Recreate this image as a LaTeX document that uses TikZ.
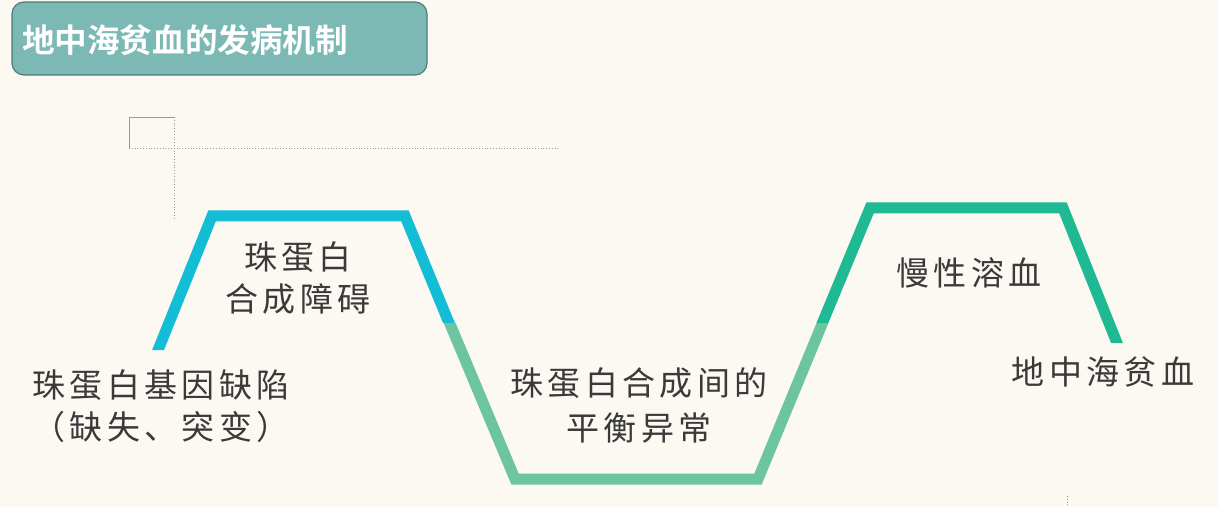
\documentclass[tikz,border=0pt]{standalone}
\usepackage{fontspec}
\newfontfamily\labfont[LetterSpace=13]{Noto Sans CJK SC}
\newfontfamily\titfont[BoldFont={Noto Sans CJK SC Bold}]{Noto Sans CJK SC}
\definecolor{bgc}{HTML}{FCF8F2}
\definecolor{bluec}{HTML}{14BDD6}
\definecolor{greenc}{HTML}{6DC4A0}
\definecolor{tealc}{HTML}{1FB994}
\definecolor{titfill}{HTML}{7CB9B5}
\definecolor{titdraw}{HTML}{4F7C7A}
\definecolor{txt}{HTML}{3A3A3A}
\tikzset{
  band/.style={line width=5.5pt, line join=miter},
  lab/.style={text=txt, font=\labfont\fontsize{16.5pt}{21pt}\selectfont, align=center, inner sep=0pt},
  guide/.style={draw=gray!80, line width=0.4pt, densely dotted},
}
\begin{document}
\begin{tikzpicture}[x=0.5pt,y=-0.5pt]
\fill[bgc] (0,0) rectangle (1218,507);
\useasboundingbox (0,0) rectangle (1218,507);
% title
\node[draw=titdraw, fill=titfill, rounded corners=6pt, line width=0.6pt,
      minimum width=207.5pt, minimum height=36.5pt, inner sep=0pt] (title) at (219.5,38.5) {};
\node[text=white, font=\titfont\bfseries\fontsize{16.3pt}{20pt}\selectfont, inner sep=0pt] (titletext) at (185,40) {地中海贫血的发病机制};
% guides
\coordinate (g1) at (129,117);
\coordinate (g2) at (174,117);
\coordinate (g3) at (129,148);
\coordinate (g4) at (559,148);
\coordinate (g5) at (174,220);
\draw[gray!80, line width=0.4pt] (g3) -- (g1) -- (g2);
\draw[guide] (g3) -- (g4);
\draw[guide] (g2) -- (g5);
\coordinate (g6) at (1067,496);
\coordinate (g7) at (1067,507);
\draw[guide] (g6) -- (g7);
% blue segment
\begin{scope}
\clip (0,0) rectangle (300,350) (300,0) rectangle (700,323);
\draw[band, bluec] (150,370) -- (212,216) -- (405,216) -- (456,340);
\end{scope}
% green segment
\begin{scope}
\clip (300,323) rectangle (950,507);
\draw[band, greenc] (440,300) -- (515,479) -- (758,479) -- (832,300);
\end{scope}
% teal segment
\begin{scope}
\clip (700,0) rectangle (950,323) (950,0) rectangle (1218,343);
\draw[band, tealc] (812,348) -- (870,208) -- (1063,208) -- (1125,363);
\end{scope}
% labels
\node[lab] (l1) at (161,406) {珠蛋白基因缺陷\\（缺失、突变）};
\node[lab] (l2) at (298,278) {珠蛋白\\合成障碍};
\node[lab, font=\labfont\fontsize{16.5pt}{22.5pt}\selectfont] (l3) at (639,405) {珠蛋白合成间的\\平衡异常};
\node[lab] (l4) at (969,273) {慢性溶血};
\node[lab] (l5) at (1103,372) {地中海贫血};
\end{tikzpicture}
\end{document}
